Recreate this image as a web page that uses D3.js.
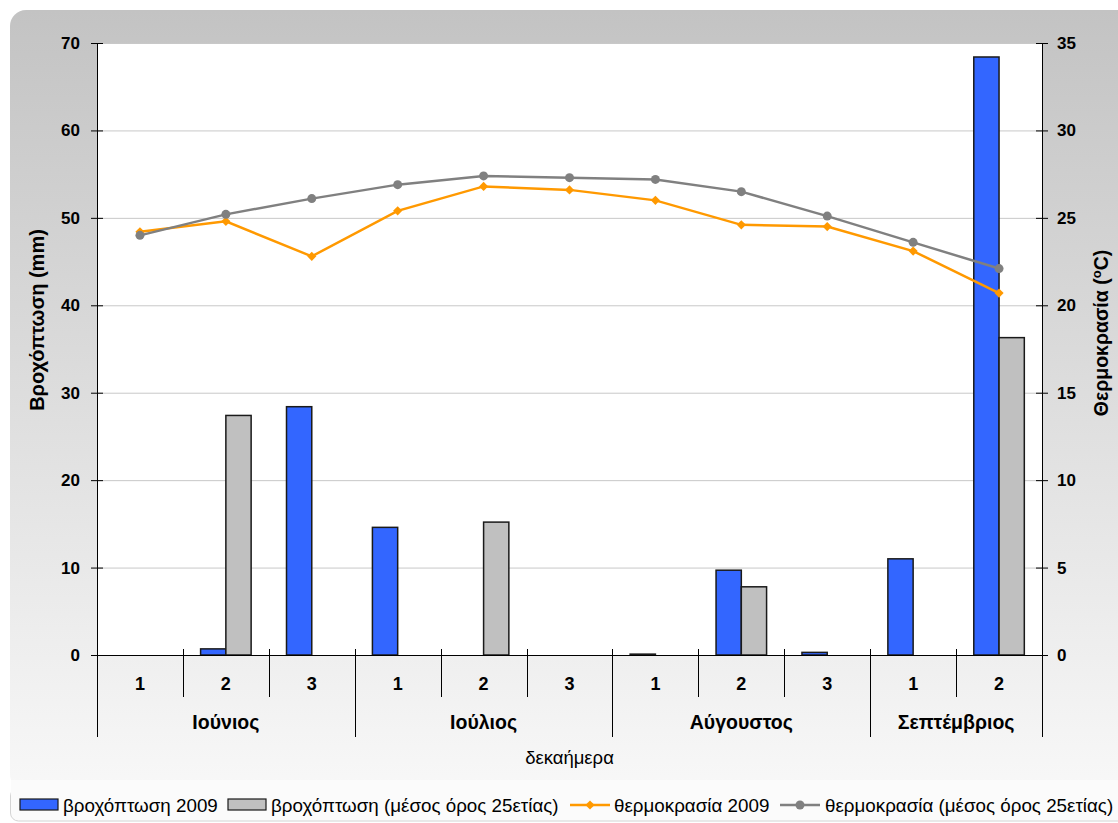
<!DOCTYPE html>
<meta charset="utf-8">
<style>
body { margin: 0; background: #fff; }
text { font-family: Arial, "Liberation Sans", sans-serif; }
.tick text { font-size: 17px; font-weight: bold; fill: #000; }
.tick line, .domain { stroke: #000; }
</style>
<body>
<script src="https://cdn.jsdelivr.net/npm/d3@7"></script>
<script>

// data
var decades = ["1", "2", "3", "1", "2", "3", "1", "2", "3", "1", "2"];
var months = ["Ιούνιος", "Ιούλιος", "Αύγουστος", "Σεπτέμβριος"];
var monthSpan = [3, 3, 3, 2];
var rain2009 = [0, 0.7, 28.4, 14.6, 0, 0, 0.1, 9.7, 0.3, 11.0, 68.4];
var rainAvg = [0, 27.4, 0, 0, 15.2, 0, 0, 7.8, 0, 0, 36.3];
var temp2009 = [24.2, 24.8, 22.8, 25.4, 26.8, 26.6, 26.0, 24.6, 24.5, 23.1, 20.7];
var tempAvg = [24.0, 25.2, 26.1, 26.9, 27.4, 27.3, 27.2, 26.5, 25.1, 23.6, 22.1];

var W = 1118, H = 823;
var pL = 97, pR = 1042, pT = 43, pB = 655;

var svg = d3.select("body").append("svg")
    .attr("width", W)
    .attr("height", H);

// background panel with vertical gradient
var grad = svg.append("defs").append("linearGradient")
    .attr("id", "bg").attr("x1", 0).attr("y1", 0).attr("x2", 0).attr("y2", 1);
grad.append("stop").attr("offset", "0%").attr("stop-color", "#c3c3c3");
grad.append("stop").attr("offset", "100%").attr("stop-color", "#f8f8f8");

svg.append("rect")
    .attr("x", 10).attr("y", 10)
    .attr("width", W + 5).attr("height", 780)
    .attr("rx", 16)
    .attr("fill", "url(#bg)");
svg.append("rect")
    .attr("x", 10.5).attr("y", 788)
    .attr("width", W + 5).attr("height", 33)
    .attr("rx", 8)
    .attr("fill", "#fbfbfb")
    .attr("stroke", "#d4d4d4");
svg.append("rect")
    .attr("x", 11).attr("y", 780)
    .attr("width", W).attr("height", 30)
    .attr("fill", "#fbfbfb");

// plot area
svg.append("rect")
    .attr("x", pL).attr("y", pT)
    .attr("width", pR - pL).attr("height", pB - pT)
    .attr("fill", "#fff");

var idx = d3.range(decades.length);

var x = d3.scaleBand().domain(idx).range([pL, pR]).paddingInner(0).paddingOuter(0);
var xs = d3.scaleBand().domain(["r09", "ravg"]).range([0, x.bandwidth()])
    .paddingInner(0).paddingOuter(0.7);
var yR = d3.scaleLinear().domain([0, 70]).range([pB, pT]);
var yT = d3.scaleLinear().domain([0, 35]).range([pB, pT]);

// gridlines
svg.append("g").selectAll("line")
    .data(yR.ticks(7).filter(function(d) { return d > 0; }))
  .enter().append("line")
    .attr("x1", pL).attr("x2", pR)
    .attr("y1", function(d) { return yR(d) + 0.5; })
    .attr("y2", function(d) { return yR(d) + 0.5; })
    .attr("stroke", "#c8c8c8");

// bars
var series = [
  {key: "r09", values: rain2009, color: "#3366ff"},
  {key: "ravg", values: rainAvg, color: "#c0c0c0"}
];
series.forEach(function(s) {
  svg.append("g").selectAll("rect")
      .data(idx.filter(function(i) { return s.values[i] > 0; }))
    .enter().append("rect")
      .attr("x", function(i) { return x(i) + xs(s.key); })
      .attr("y", function(i) { return yR(s.values[i]); })
      .attr("width", xs.bandwidth())
      .attr("height", function(i) { return pB - yR(s.values[i]); })
      .attr("fill", s.color)
      .attr("stroke", "#1a1a1a")
      .attr("stroke-width", 1.5);
});

// temperature lines
var cx = function(i) { return x(i) + x.bandwidth() / 2; };
var diamond = d3.symbol().type(d3.symbolSquare).size(42);
function tline(vals) {
  return d3.line().x(function(d, i) { return cx(i); }).y(function(d) { return yT(d); })(vals);
}
svg.append("path")
    .attr("d", tline(temp2009))
    .attr("fill", "none").attr("stroke", "#ff9900").attr("stroke-width", 2.5);
svg.append("g").selectAll("path")
    .data(temp2009)
  .enter().append("path")
    .attr("transform", function(d, i) { return "translate(" + cx(i) + "," + yT(d) + ") rotate(45)"; })
    .attr("d", diamond)
    .attr("fill", "#ff9900");

svg.append("path")
    .attr("d", tline(tempAvg))
    .attr("fill", "none").attr("stroke", "#808080").attr("stroke-width", 2.5);
svg.append("g").selectAll("circle")
    .data(tempAvg)
  .enter().append("circle")
    .attr("cx", function(d, i) { return cx(i); })
    .attr("cy", function(d) { return yT(d); })
    .attr("r", 4.5)
    .attr("fill", "#808080");

// left axis
var gL = svg.append("g")
    .attr("transform", "translate(" + pL + ",0)")
    .call(d3.axisLeft(yR).ticks(7).tickSizeInner(6).tickSizeOuter(0).tickPadding(11));
gL.select(".domain").remove();
gL.selectAll(".tick line").attr("x1", 6);

// right axis
var gR = svg.append("g")
    .attr("transform", "translate(" + pR + ",0)")
    .call(d3.axisRight(yT).ticks(7).tickSizeInner(6).tickSizeOuter(0).tickPadding(9));
gR.select(".domain").remove();
gR.selectAll(".tick line").attr("x1", -6);

// axis lines extending into the category area
[pL, pR].forEach(function(px) {
  svg.append("line")
      .attr("x1", px + 0.5).attr("x2", px + 0.5)
      .attr("y1", pT).attr("y2", 737)
      .attr("stroke", "#000");
});
svg.append("line")
    .attr("x1", pL).attr("x2", pR)
    .attr("y1", pB + 0.5).attr("y2", pB + 0.5)
    .attr("stroke", "#000");

// category separators
var monthStart = [0];
monthSpan.forEach(function(n, k) { monthStart.push(monthStart[k] + n); });
svg.append("g").selectAll("line")
    .data(d3.range(1, decades.length))
  .enter().append("line")
    .attr("x1", function(i) { return Math.round(x(i)) + 0.5; })
    .attr("x2", function(i) { return Math.round(x(i)) + 0.5; })
    .attr("y1", pB - 6)
    .attr("y2", function(i) { return monthStart.indexOf(i) >= 0 ? 737 : 697; })
    .attr("stroke", "#000");

// decade labels
svg.append("g").selectAll("text")
    .data(idx)
  .enter().append("text")
    .attr("x", cx)
    .attr("y", 690)
    .attr("text-anchor", "middle")
    .style("font-size", "18px").style("font-weight", "bold")
    .text(function(i) { return decades[i]; });

// month labels
svg.append("g").selectAll("text")
    .data(months)
  .enter().append("text")
    .attr("x", function(d, k) {
      return (x(monthStart[k]) + x(monthStart[k + 1] - 1) + x.bandwidth()) / 2;
    })
    .attr("y", 729)
    .attr("text-anchor", "middle")
    .style("font-size", "19.5px").style("font-weight", "bold")
    .text(function(d) { return d; });

svg.append("text")
    .attr("x", (pL + pR) / 2).attr("y", 764)
    .attr("text-anchor", "middle")
    .style("font-size", "18.5px")
    .text("δεκαήμερα");

// axis titles
svg.append("text")
    .attr("transform", "translate(44,320) rotate(-90)")
    .attr("text-anchor", "middle")
    .style("font-size", "20px").style("font-weight", "bold")
    .text("Βροχόπτωση (mm)");

var tt = svg.append("text")
    .attr("transform", "translate(1108,333) rotate(-90)")
    .attr("text-anchor", "middle")
    .style("font-size", "19.5px").style("font-weight", "bold");
tt.append("tspan").text("Θερμοκρασία (");
tt.append("tspan").attr("dy", -7).style("font-size", "13px").text("o");
tt.append("tspan").attr("dy", 7).text("C)");

// legend
var ly = 805;
var lg = svg.append("g");
[{x: 20, c: "#3366ff", t: "βροχόπτωση 2009"},
 {x: 228, c: "#c0c0c0", t: "βροχόπτωση (μέσος όρος 25ετίας)"}].forEach(function(d) {
  lg.append("rect")
      .attr("x", d.x).attr("y", ly - 6)
      .attr("width", 38).attr("height", 11)
      .attr("fill", d.c).attr("stroke", "#1a1a1a").attr("stroke-width", 1.2);
  lg.append("text")
      .attr("x", d.x + 43).attr("y", ly + 6.5)
      .style("font-size", "18.8px")
      .text(d.t);
});
lg.append("line")
    .attr("x1", 570).attr("x2", 610).attr("y1", ly).attr("y2", ly)
    .attr("stroke", "#ff9900").attr("stroke-width", 2.5);
lg.append("path")
    .attr("transform", "translate(590," + ly + ") rotate(45)")
    .attr("d", diamond)
    .attr("fill", "#ff9900");
lg.append("text").attr("x", 614).attr("y", ly + 6.5).style("font-size", "18.8px")
    .text("θερμοκρασία 2009");
lg.append("line")
    .attr("x1", 780).attr("x2", 820).attr("y1", ly).attr("y2", ly)
    .attr("stroke", "#808080").attr("stroke-width", 2.5);
lg.append("circle")
    .attr("cx", 800).attr("cy", ly).attr("r", 4.5)
    .attr("fill", "#808080");
lg.append("text").attr("x", 825).attr("y", ly + 6.5).style("font-size", "18.8px")
    .text("θερμοκρασία (μέσος όρος 25ετίας)");

</script>
</body>
